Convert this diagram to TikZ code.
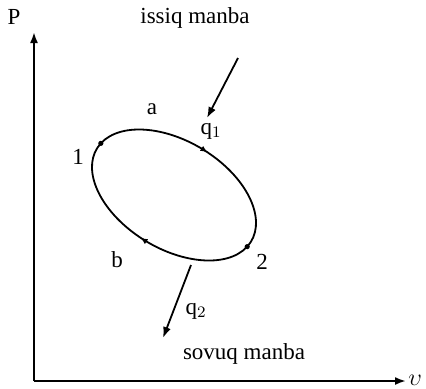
\documentclass[tikz,border=0pt]{standalone}
\usepackage{fontspec}
\setmainfont{Liberation Serif}
\usepackage{tikz}
\usetikzlibrary{arrows.meta,decorations.markings,positioning}

\tikzset{
  lbl/.style={font=\fontsize{11.5}{13}\selectfont,inner sep=0pt},
  cycle/.style={line width=0.9pt,postaction={decorate},
    decoration={markings,
      mark=at position 0.25 with {\arrow{Latex[length=3.5pt,width=3pt]}},
      mark=at position 0.75 with {\arrow{Latex[length=3.5pt,width=3pt]}}}},
  dot/.style={circle,fill=black,inner sep=0pt,minimum size=2.6pt}
}

\begin{document}
\begin{tikzpicture}[x=0.5pt,y=0.5pt,>={Latex[length=5.5pt,width=4pt]}]
  \useasboundingbox (0,0) rectangle (426,388);
  % axes
  \coordinate (O) at (34,7);
  \coordinate (ytop) at (34,356);
  \coordinate (xend) at (406,7);
  \draw[line width=1pt,->] (O)--(ytop);
  \draw[line width=1pt,->] (O)--(xend);
  \node[lbl] (P) at (14,371) {P};
  \node[lbl,anchor=base west] (v) at (408,3) {$\upsilon$};
  % the cycle
  \begin{scope}[shift={(174,193)},rotate=-31]
    \coordinate (p1) at (173:90 and 54);
    \coordinate (p2) at (-7:90 and 54);
    \draw[cycle] (p1) arc[start angle=173,end angle=-7,x radius=90,y radius=54]
                      arc[start angle=-7,end angle=-187,x radius=90,y radius=54];
  \end{scope}
  \node[dot] at (p1) {};
  \node[dot] at (p2) {};
  \node[lbl] (n1) at (78,231) {1};
  \node[lbl] (n2) at (262,126) {2};
  \node[lbl] (a) at (152,279) {a};
  \node[lbl] (b) at (117,128) {b};
  % heat sources
  \node[lbl] (hot) at (195,370) {issiq manba};
  \node[lbl] (cold) at (244,34) {sovuq manba};
  \node[lbl] (q1) at (211,257) {q$_1$};
  \node[lbl] (q2) at (196,77) {q$_2$};
  \coordinate (h1) at (238,330);
  \coordinate (h2) at (207,270);
  \coordinate (c1) at (191,123);
  \coordinate (c2) at (163,50);
  \draw[line width=0.9pt,->] (h1)--(h2);
  \draw[line width=0.9pt,->] (c1)--(c2);
\end{tikzpicture}
\end{document}
